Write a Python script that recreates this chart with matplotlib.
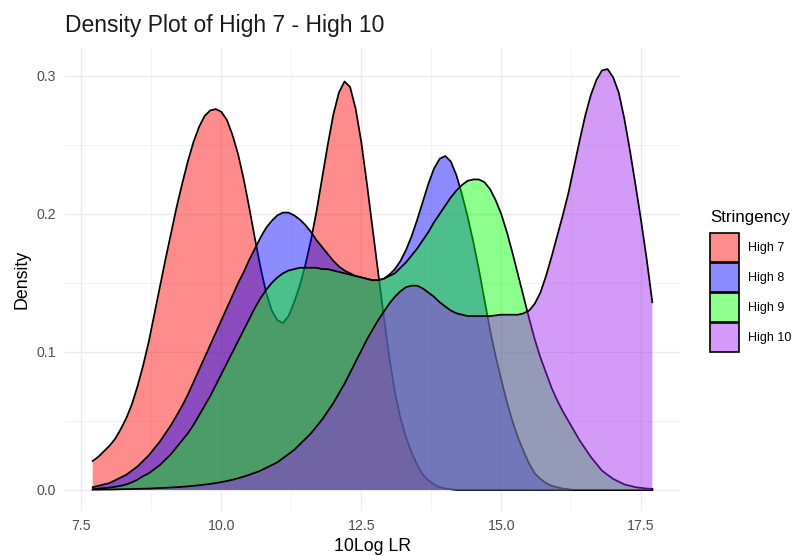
import matplotlib
matplotlib.use("Agg")
import matplotlib.pyplot as plt
from matplotlib.patches import Patch
from matplotlib.ticker import MultipleLocator
from matplotlib.colors import to_rgba

# ---- data ----
x_eval = [7.7, 7.8, 7.9, 8.0, 8.1, 8.2, 8.3, 8.4, 8.5, 8.6,
          8.7, 8.8, 8.9, 9.0, 9.1, 9.2, 9.3, 9.4, 9.5, 9.6,
          9.7, 9.8, 9.9, 10.0, 10.1, 10.2, 10.3, 10.4, 10.5, 10.6,
          10.7, 10.8, 10.9, 11.0, 11.1, 11.2, 11.3, 11.4, 11.5, 11.6,
          11.7, 11.8, 11.9, 12.0, 12.1, 12.2, 12.3, 12.4, 12.5, 12.6,
          12.7, 12.8, 12.9, 13.0, 13.1, 13.2, 13.3, 13.4, 13.5, 13.6,
          13.7, 13.8, 13.9, 14.0, 14.1, 14.2, 14.3, 14.4, 14.5, 14.6,
          14.7, 14.8, 14.9, 15.0, 15.1, 15.2, 15.3, 15.4, 15.5, 15.6,
          15.7, 15.8, 15.9, 16.0, 16.1, 16.2, 16.3, 16.4, 16.5, 16.6,
          16.7, 16.8, 16.9, 17.0, 17.1, 17.2, 17.3, 17.4, 17.5, 17.6,
          17.7]

high7 = [.021, .024, .028, .032, .037, .044, .052, .062, .075, .090,
         .107, .127, .147, .167, .186, .205, .222, .238, .252, .263,
         .271, .275, .276, .274, .268, .257, .243, .225, .204, .182,
         .161, .143, .130, .123, .121, .126, .136, .148, .163, .181,
         .202, .226, .250, .272, .288, .296, .292, .276, .252, .222,
         .190, .158, .126, .096, .071, .052, .038, .027, .018, .011,
         .007, .004, .002, .001, .0005, 0, 0, 0, 0, 0,
         0, 0, 0, 0, 0, 0, 0, 0, 0, 0,
         0, 0, 0, 0, 0, 0, 0, 0, 0, 0,
         0, 0, 0, 0, 0, 0, 0, 0, 0, 0,
         0]

high8 = [.002, .003, .004, .005, .007, .009, .011, .014, .017, .021,
         .025, .030, .035, .041, .047, .054, .061, .069, .078, .087,
         .096, .105, .114, .123, .132, .141, .150, .158, .167, .175,
         .183, .190, .195, .199, .201, .201, .199, .196, .192, .187,
         .181, .176, .171, .166, .162, .159, .157, .155, .154, .153,
         .152, .152, .153, .156, .160, .166, .174, .184, .196, .209,
         .222, .233, .240, .242, .238, .228, .214, .198, .180, .160,
         .138, .116, .097, .080, .064, .050, .038, .028, .019, .012,
         .008, .005, .003, .002, .001, .0005, 0, 0, 0, 0,
         0, 0, 0, 0, 0, 0, 0, 0, 0, 0,
         0]

high9 = [.0005, .001, .0013, .0017, .0023, .003, .004, .0055, .0075, .010,
         .012, .015, .018, .022, .026, .031, .036, .041, .047, .054,
         .061, .068, .076, .084, .092, .100, .108, .116, .124, .132,
         .139, .145, .150, .154, .157, .159, .160, .161, .161, .161,
         .161, .160, .160, .159, .158, .157, .156, .155, .154, .153,
         .152, .152, .153, .155, .157, .161, .165, .170, .175, .181,
         .187, .194, .200, .206, .212, .217, .221, .224, .225, .225,
         .223, .218, .210, .200, .187, .172, .156, .140, .124, .109,
         .096, .085, .074, .065, .057, .050, .043, .036, .030, .024,
         .019, .014, .011, .008, .006, .004, .003, .002, .0015, .001,
         .0008]

high10 = [.0002, .0002, .0003, .0003, .0004, .0005, .0006, .0007, .0008, .0009,
          .001, .0012, .0014, .0016, .0018, .002, .0023, .0026, .003, .0034,
          .0039, .0044, .005, .0057, .0065, .0074, .0085, .0097, .011, .0125,
          .014, .016, .018, .020, .023, .026, .029, .033, .037, .041,
          .046, .051, .057, .063, .070, .077, .085, .093, .101, .109,
          .116, .123, .129, .135, .140, .144, .147, .148, .148, .146,
          .143, .140, .136, .133, .130, .128, .127, .126, .126, .126,
          .126, .126, .1265, .127, .127, .127, .127, .128, .130, .135,
          .143, .155, .169, .184, .199, .215, .234, .253, .271, .286,
          .297, .304, .305, .299, .288, .269, .246, .221, .195, .167,
          .136]

series_names = ["High 7", "High 8", "High 9", "High 10"]
series_values = [high7, high8, high9, high10]
fill_colors = ["#FF0000", "#0000FF", "#00FF00", "#A020F0"]
x_ticks = [7.5, 10.0, 12.5, 15.0, 17.5]
x_tick_labels = ["7.5", "10.0", "12.5", "15.0", "17.5"]
y_ticks = [0.0, 0.1, 0.2, 0.3]
y_tick_labels = ["0.0", "0.1", "0.2", "0.3"]

FILL_ALPHA = 0.45
plt.rcParams["font.family"] = ["Liberation Sans", "DejaVu Sans"]

W, H = 803, 556
fig = plt.figure(figsize=(W / 100, H / 100), dpi=100)
ax = fig.add_axes([64.7 / W, 1 - 511 / H, (680.3 - 64.7) / W, (511 - 48) / H])

for i, (name, vals, col) in enumerate(zip(series_names, series_values, fill_colors)):
    ax.fill_between(x_eval, 0, vals, facecolor=col, alpha=FILL_ALPHA,
                    linewidth=0, zorder=2 + 2 * i)
    ax.plot(x_eval, vals, color="black", linewidth=1.25, zorder=3 + 2 * i,
            solid_joinstyle="round")

# ggplot-like expansion of the scales
xmin, xmax = min(x_eval), max(x_eval)
xr = xmax - xmin
ymax = max(max(v) for v in series_values)
ax.set_xlim(xmin - 0.05 * xr, xmax + 0.05 * xr)
ax.set_ylim(-0.05 * ymax, ymax * 1.05)

ax.set_xticks(x_ticks)
ax.set_xticklabels(x_tick_labels)
ax.set_yticks(y_ticks)
ax.set_yticklabels(y_tick_labels)
ax.xaxis.set_minor_locator(MultipleLocator(1.25))
ax.yaxis.set_minor_locator(MultipleLocator(0.05))

ax.set_axisbelow(True)
ax.grid(which="major", color="#EBEBEB", linewidth=1.0, zorder=0)
ax.grid(which="minor", color="#EFEFEF", linewidth=0.55, zorder=0)
for s in ax.spines.values():
    s.set_visible(False)
ax.tick_params(which="both", length=0)
ax.tick_params(axis="x", pad=6.0, labelsize=10.2, labelcolor="#4D4D4D")
ax.tick_params(axis="y", pad=6.5, labelsize=10.2, labelcolor="#4D4D4D")

ax.set_xlabel("10Log LR", fontsize=12.8, color="black", labelpad=3.5)
ax.set_ylabel("Density", fontsize=12.8, color="black", labelpad=4)
ax.set_title("Density Plot of High 7 - High 10", loc="left", fontsize=16.5,
             color="#1A1A1A", pad=11.5)

handles = [Patch(facecolor=to_rgba(c, FILL_ALPHA), edgecolor="black", linewidth=1.2)
           for c in fill_colors]
LEG_FS = 9.0
leg = fig.legend(handles, series_names, loc="center left",
                 bbox_to_anchor=(710 / W, 1 - 281 / H), frameon=False,
                 title="Stringency", alignment="left", fontsize=LEG_FS,
                 title_fontsize=12.2, handlelength=2.32, handleheight=3.2,
                 labelspacing=0.08, handletextpad=0.72, borderpad=0,
                 borderaxespad=0)
leg._legend_box.sep = 6

fig.savefig("out.png", dpi=100)
